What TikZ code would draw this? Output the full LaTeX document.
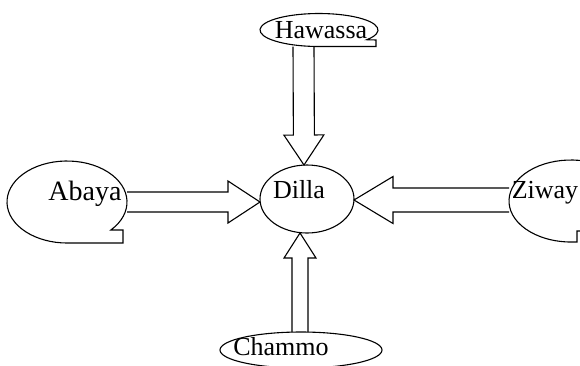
\documentclass[tikz,border=0pt]{standalone}
\usepackage{fontspec}
\setmainfont{Liberation Serif}
\usetikzlibrary{calc,shapes.geometric}

% Hollow block arrow: #1 name, #2 start, #3 tip, #4 half shaft width,
% #5 half head width, #6 head length
\newcommand\blockarrow[6]{%
  \coordinate (#1-base) at ($(#3)!#6!(#2)$);
  \draw[arrowline]
    ($(#2)!#4!90:(#3)$) -- ($(#1-base)!#4!90:(#3)$)
    -- ($(#1-base)!#5!90:(#3)$) -- (#3)
    -- ($(#1-base)!#5!-90:(#3)$) -- ($(#1-base)!#4!-90:(#3)$)
    -- ($(#2)!#4!-90:(#3)$);
}

\begin{document}
\begin{tikzpicture}[x=1pt,y=-1pt,line width=1.1pt,
  outline/.style={draw=black,line join=miter},
  arrowline/.style={draw=black,line join=miter},
  lbl/.style={inner sep=0pt,anchor=base,font=\fontsize{26}{30}\selectfont}]
\useasboundingbox (0,0) rectangle (580,365);
\clip (0,0) rectangle (580,365);

% centre ellipse
\node[ellipse,outline,minimum width=94pt,minimum height=68pt,inner sep=0pt] (dilla) at (307,199) {};
\node[lbl] (tDilla) at (299,198) {Dilla};

% Hawassa (top) with its notched lower edge
\draw[outline] (319,30) ++(36:59 and 16.5) arc[start angle=36,end angle=-270,x radius=59,y radius=16.5]
  -- (376,46.5) -- (376,40) -- cycle;
\node[lbl] (tHawassa) at (321,38) {Hawassa};

% Abaya (left)
\draw[outline] (67,202) ++(43:60 and 41) arc[start angle=43,end angle=-270,x radius=60,y radius=41]
  -- (123,243) -- (123,230) -- cycle;
\node[lbl,font=\fontsize{28}{32}\selectfont] (tAbaya) at (85,200) {Abaya};

% Ziway (right, running past the edge)
\draw[outline] (571,201) ++(47:62 and 41) arc[start angle=47,end angle=-270,x radius=62,y radius=41]
  -- (577,242) -- (577,231) -- (612,231);
\node[lbl] (tZiway) at (545,198) {Ziway};

% Chammo (bottom)
\draw[outline] (301,350) ellipse[x radius=81,y radius=18];
\node[lbl] (tChammo) at (281,355) {Chammo};

% arrow end points
\coordinate (hawS) at (303.5,46.5);
\coordinate (hawT) at (304,165);
\coordinate (abaS) at (127,202);
\coordinate (abaT) at (260,202);
\coordinate (ziwS) at (509,200);
\coordinate (ziwT) at (354,200);
\coordinate (chaS) at (300,332);
\coordinate (chaT) at (300,233);

\blockarrow{haw}{hawS}{hawT}{10.5pt}{20pt}{30pt}
\blockarrow{aba}{abaS}{abaT}{10pt}{21pt}{32pt}
\blockarrow{ziw}{ziwS}{ziwT}{12pt}{23.5pt}{39pt}
\blockarrow{cha}{chaS}{chaT}{8pt}{16pt}{25pt}
\end{tikzpicture}
\end{document}
